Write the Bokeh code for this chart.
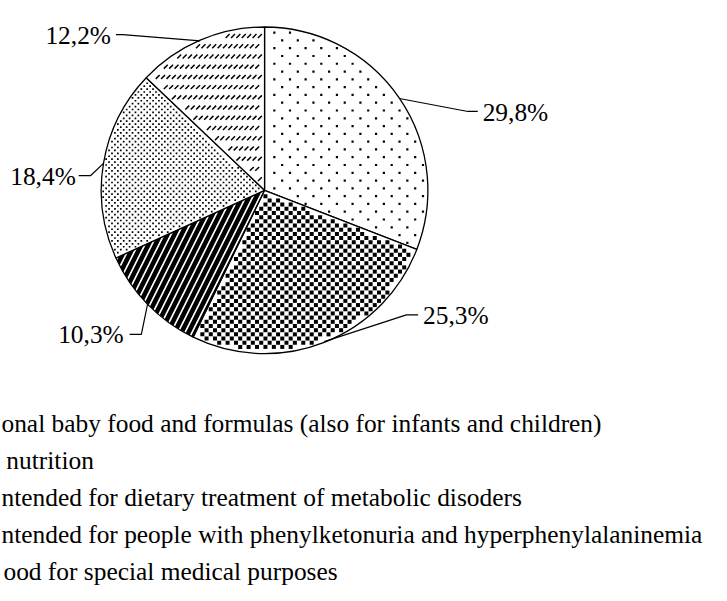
import math
from bokeh.plotting import figure
from bokeh.models import ColumnDataSource, Range1d
from bokeh.core.properties import value
from bokeh.embed import file_html
from bokeh.resources import INLINE

# ---- data (legend texts as far as the picture shows them) ----
legend_texts = [
    "onal baby food and formulas (also for infants and children)",
    "nutrition",
    "ntended for dietary treatment of metabolic disoders",
    "ntended for people with phenylketonuria and hyperphenylalaninemia",
    "ood for special medical purposes",
]
pct_labels = ["29,8%", "25,3%", "10,3%", "18,4%", "12,2%"]
share = [30.9, 26.3, 11.0, 18.9, 12.9]   # slice sizes as drawn (percent of circle)

# ---- layout: data units = reference picture pixels (727 x 601) ----
W, H = 711, 585
REF_W, REF_H = 727, 601
FONT = value("Liberation Serif")
FS = "25.4px"


def Y(yi):
    return REF_H - yi


CX, CY, R = 270, Y(195), 167

# fill textures of the slices (style only)
fills = [
    dict(kind="dots", period=16, size=2.2),
    dict(kind="dots", period=8.6, size=4.0),
    dict(kind="hatch", hatch_pattern="right_diagonal_line", hatch_scale=14, hatch_weight=4.6),
    dict(kind="dots", period=6, size=1.7),
    dict(kind="dashes", xp=5.5, yp=10.5, length=4.0, width=1.5),
]

# elbow / end of leader, label anchor and alignment (reference pixels)
label_layout = [
    dict(elbow=(478, 114), end=(488, 114), tx=493, ty=115, align="left"),
    dict(elbow=(415, 323), end=(427, 323), tx=432, ty=323, align="left"),
    dict(elbow=(144, 343), end=(132, 343), tx=126, ty=343, align="right"),
    dict(elbow=(92, 180), end=(80, 180), tx=77, ty=180, align="right"),
    dict(elbow=(125, 35), end=(118, 35), tx=113, ty=35, align="right"),
]

p = figure(width=W, height=H, output_backend="svg", toolbar_location=None,
           x_range=Range1d(0, REF_W), y_range=Range1d(0, REF_H),
           min_border=0)
p.xaxis.visible = False
p.yaxis.visible = False
p.grid.visible = False
p.outline_line_color = None
p.background_fill_color = "white"
p.border_fill_color = "white"


def inside(x, y, a0, a1, margin):
    dx, dy = x - CX, y - CY
    r = math.hypot(dx, dy)
    if r > R - margin or r < 1e-6:
        return False
    th = math.atan2(dx, dy) % (2 * math.pi)
    if not (a0 <= th <= a1):
        return False
    return r * math.sin(min(th - a0, math.pi / 2)) > margin and \
        r * math.sin(min(a1 - th, math.pi / 2)) > margin


def staggered(period):
    n = int(2 * R / period) + 3
    x_base = CX - R - (CX - R) % period
    y_base = CY - R - (CY - R) % period
    for i in range(n):
        for j in range(n):
            x = x_base + i * period
            y = y_base + j * period
            yield x, y
            yield x + period / 2, y + period / 2


total = sum(share)
cum = 0.0
for i, s in enumerate(share):
    a0 = cum / total * 2 * math.pi
    cum += s
    a1 = cum / total * 2 * math.pi
    f = fills[i]
    src = ColumnDataSource(dict(x=[CX], y=[CY], sa=[math.pi / 2 - a0], ea=[math.pi / 2 - a1]))
    extra = {}
    if f["kind"] == "hatch":
        extra = dict(hatch_pattern=f["hatch_pattern"], hatch_scale=f["hatch_scale"],
                     hatch_weight=f["hatch_weight"], hatch_color="black")
    p.wedge(x="x", y="y", radius=R, start_angle="sa", end_angle="ea", direction="clock",
            source=src, fill_color="white", line_color=None, **extra)

    if f["kind"] == "dots":
        m = f["size"] / 2 + 1.0
        pts = [(x, y) for x, y in staggered(f["period"]) if inside(x, y, a0, a1, m)]
        p.scatter([q[0] for q in pts], [q[1] for q in pts], marker="square",
                  size=f["size"], fill_color="black", line_color=None)
    elif f["kind"] == "dashes":
        hl = f["length"] / 2
        m = hl * 1.5 + 1.0
        pts = []
        ny = int(2 * R / f["yp"]) + 3
        nx = int(2 * R / f["xp"]) + 3
        for j in range(ny):
            for k in range(nx):
                x = CX - R + k * f["xp"] + (f["xp"] / 2 if j % 2 else 0)
                y = CY - R + j * f["yp"]
                if inside(x, y, a0, a1, m):
                    pts.append((x, y))
        p.segment([q[0] - hl for q in pts], [q[1] - hl for q in pts],
                  [q[0] + hl for q in pts], [q[1] + hl for q in pts],
                  line_color="black", line_width=f["width"])

    # slice outline on top
    p.wedge(x="x", y="y", radius=R, start_angle="sa", end_angle="ea", direction="clock",
            source=src, fill_color=None, line_color="black", line_width=1.3)

    am = (a0 + a1) / 2
    ax = CX + R * math.sin(am)
    ay = CY + R * math.cos(am)
    lay = label_layout[i]
    xs = [ax, lay["elbow"][0], lay["end"][0]]
    ys = [ay, Y(lay["elbow"][1]), Y(lay["end"][1])]
    p.line(xs, ys, line_color="black", line_width=1.2)
    p.text(x=[lay["tx"]], y=[Y(lay["ty"])], text=[pct_labels[i]], text_font=FONT,
           text_font_size=FS, text_color="black", text_align=lay["align"],
           text_baseline="alphabetic")

# legend rows (their swatches and first letters lie left of the visible area)
leg_x = [1, 6, 1, 1, 3]
leg_y0 = 434
leg_dy = 38
p.text(x=leg_x, y=[Y(leg_y0 + k * leg_dy) for k in range(len(legend_texts))],
       text=legend_texts, text_font=FONT, text_font_size=FS,
       text_color="black", text_align="left", text_baseline="alphabetic")

open("out.html", "w").write(file_html(p, INLINE))
